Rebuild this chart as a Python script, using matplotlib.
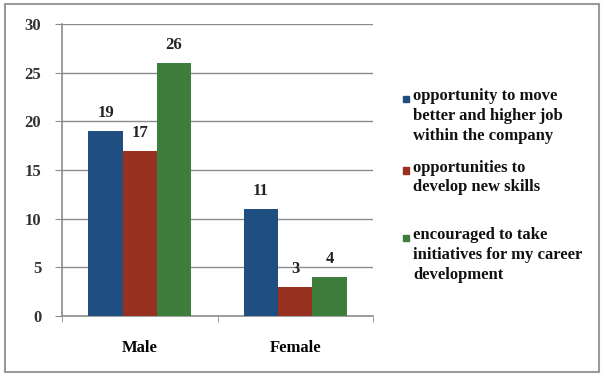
import numpy as np
import matplotlib.pyplot as plt

categories = ['Male', 'Female']
series_names = ['opportunity to move\nbetter and higher job\nwithin the company',
                'opportunities to\ndevelop new skills',
                'encouraged to take\ninitiatives for my career\ndevelopment']
move_up = [19, 11]
new_skills = [17, 3]
initiatives = [26, 4]
colors = ['#1f4f80', '#98311f', '#3d7e3c']

plt.rcParams['font.family'] = ['Liberation Serif', 'DejaVu Serif']
plt.rcParams['font.weight'] = 'bold'

fig = plt.figure(figsize=(6.04, 3.76), dpi=100)
ax = fig.add_axes([0.1026, 0.1596, 0.515, 0.7766])

x = np.arange(len(categories))
w = 0.22
for i, (vals, c) in enumerate(zip([move_up, new_skills, initiatives], colors)):
    ax.bar(x + (i - 1) * w, vals, w, color=c, zorder=3)
    for xi, v in zip(x + (i - 1) * w, vals):
        ax.annotate(str(v), (xi, v), xytext=(0, 7), textcoords='offset points',
                    ha='center', va='bottom', fontsize=12, fontweight='bold', color='#222222')

ax.set_xlim(-0.5, 1.5)
ax.set_ylim(0, 30)
ax.set_yticks(range(0, 31, 5))
ax.yaxis.grid(True, color='#8c8c8c', linewidth=1.0, zorder=0)
ax.set_xticks(x)
ax.set_xticklabels(categories, fontsize=12, fontweight='bold')
ax.set_xticks([-0.5, 0.5, 1.5], minor=True)
ax.tick_params(axis='x', which='major', length=0, pad=17)
ax.tick_params(axis='x', which='minor', length=4, color='#8c8c8c', direction='out')
ax.tick_params(axis='y', length=5, color='#8c8c8c', labelsize=12, labelcolor='#333333', pad=10)
for lbl in ax.get_yticklabels():
    lbl.set_fontweight('bold')
for s in ['top', 'right']:
    ax.spines[s].set_visible(False)
for s in ['left', 'bottom']:
    ax.spines[s].set_color('#8c8c8c')
    ax.spines[s].set_linewidth(1.2)

# legend drawn by hand: square next to the first line of each label
leg_tops = [0.765, 0.575, 0.395]
for name, c, top in zip(series_names, colors, leg_tops):
    fig.text(0.684, top, name, ha='left', va='top', fontsize=12, fontweight='bold',
             linespacing=1.3, color='#111111')
    fig.patches.append(plt.Rectangle((0.667, top - 0.037), 0.0105, 0.017,
                                     transform=fig.transFigure, color=c))

# outer border
fig.patches.append(plt.Rectangle((0.008, 0.01), 0.984, 0.98, transform=fig.transFigure,
                                 fill=False, edgecolor='#9a9a9a', linewidth=1.5))

fig.savefig('out.png', dpi=100)
